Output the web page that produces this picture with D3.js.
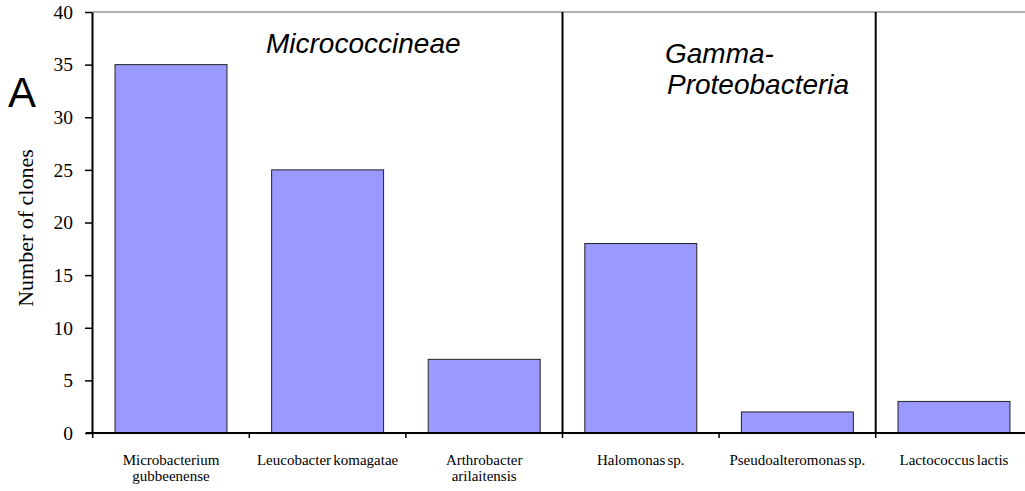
<!DOCTYPE html>
<html>
<head>
<meta charset="UTF-8">
<script src="https://cdn.jsdelivr.net/npm/d3@7"></script>
<style>
body { margin: 0; background: #fff; }
</style>
</head>
<body>
<div id="chart"></div>
<script>
var species = ["Microbacterium gubbeenense", "Leucobacter komagatae", "Arthrobacter arilaitensis",
	"Halomonas sp.", "Pseudoalteromonas sp.", "Lactococcus lactis"];
var labelLines = [["Microbacterium", "gubbeenense"], ["Leucobacter komagatae"], ["Arthrobacter", "arilaitensis"],
	["Halomonas sp."], ["Pseudoalteromonas sp."], ["Lactococcus lactis"]];
var clones = [35, 25, 7, 18, 2, 3];
var yTicks = [0, 5, 10, 15, 20, 25, 30, 35, 40];
// group boundaries: before Halomonas, before Lactococcus
var dividers = ["Halomonas sp.", "Lactococcus lactis"];

var svg = d3.select("#chart").append("svg")
	.attr("width", 1025)
	.attr("height", 491);

var x = d3.scaleBand()
	.domain(species)
	.range([92, 1033])
	.paddingInner(0.285)
	.paddingOuter(0.147);

var y = d3.scaleLinear()
	.domain([0, 40])
	.range([433, 12]);

var step = x.step();
var gap = step * x.paddingInner() / 2;

// top border
svg.append("line")
	.attr("x1", 92).attr("x2", 1025)
	.attr("y1", y(40)).attr("y2", y(40))
	.attr("stroke", "#999").attr("stroke-width", 1.5);

// bars
svg.selectAll("rect.bar")
	.data(species)
	.enter().append("rect")
	.attr("class", "bar")
	.attr("x", function(d){ return x(d); })
	.attr("y", function(d, i){ return y(clones[i]); })
	.attr("width", x.bandwidth())
	.attr("height", function(d, i){ return y(0) - y(clones[i]); })
	.attr("fill", "#9999FF")
	.attr("stroke", "#222")
	.attr("stroke-width", 1);

// group dividers
svg.selectAll("line.div")
	.data(dividers)
	.enter().append("line")
	.attr("x1", function(d){ return x(d) - gap; })
	.attr("x2", function(d){ return x(d) - gap; })
	.attr("y1", y(40)).attr("y2", y(0))
	.attr("stroke", "#000").attr("stroke-width", 2);

// y axis
var yAxis = d3.axisLeft(y).tickValues(yTicks).tickSize(7).tickSizeOuter(0);
var gy = svg.append("g").attr("transform", "translate(92,0)").call(yAxis);
gy.select(".domain").attr("stroke-width", 2);
gy.selectAll(".tick line").attr("stroke-width", 1.5);
gy.selectAll("text")
	.attr("font-family", "Liberation Serif, Times New Roman, serif")
	.attr("font-size", 19.5)
	.attr("fill", "#000")
	.attr("x", -19);

// x axis line and ticks at band boundaries
svg.append("line")
	.attr("x1", 86).attr("x2", 1025)
	.attr("y1", y(0)).attr("y2", y(0))
	.attr("stroke", "#000").attr("stroke-width", 2);
svg.selectAll("line.xt")
	.data(species)
	.enter().append("line")
	.attr("x1", function(d){ return x(d) - gap; })
	.attr("x2", function(d){ return x(d) - gap; })
	.attr("y1", y(0)).attr("y2", y(0) + 5)
	.attr("stroke", "#000").attr("stroke-width", 1.5);

// category labels
var lab = svg.selectAll("text.cat")
	.data(species)
	.enter().append("text")
	.attr("class", "cat")
	.attr("text-anchor", "middle")
	.attr("font-family", "Liberation Serif, Times New Roman, serif")
	.attr("font-size", 15)
	.attr("word-spacing", -1.5)
	.attr("fill", "#000");
lab.each(function(d, i){
	var t = d3.select(this);
	labelLines[i].forEach(function(s, j){
		t.append("tspan")
			.attr("x", x(d) + x.bandwidth() / 2)
			.attr("y", 465 + j * 16)
			.text(s);
	});
});

// y label
svg.append("text")
	.attr("transform", "translate(33,228) rotate(-90)")
	.attr("text-anchor", "middle")
	.attr("font-family", "Liberation Serif, Times New Roman, serif")
	.attr("font-size", 22)
	.text("Number of clones");

// panel letter
svg.append("text")
	.attr("x", 8).attr("y", 107)
	.attr("font-family", "Liberation Sans, Arial, sans-serif")
	.attr("font-size", 42)
	.text("A");

// group names
function groupText(str, px, py){
	svg.append("text").attr("x", px).attr("y", py)
		.attr("font-family", "Liberation Sans, Arial, sans-serif")
		.attr("font-size", 28)
		.attr("font-style", "italic")
		.text(str);
}
groupText("Micrococcineae", 266, 53);
groupText("Gamma-", 665, 63);
groupText("Proteobacteria", 667, 94);
</script>
</body>
</html>
